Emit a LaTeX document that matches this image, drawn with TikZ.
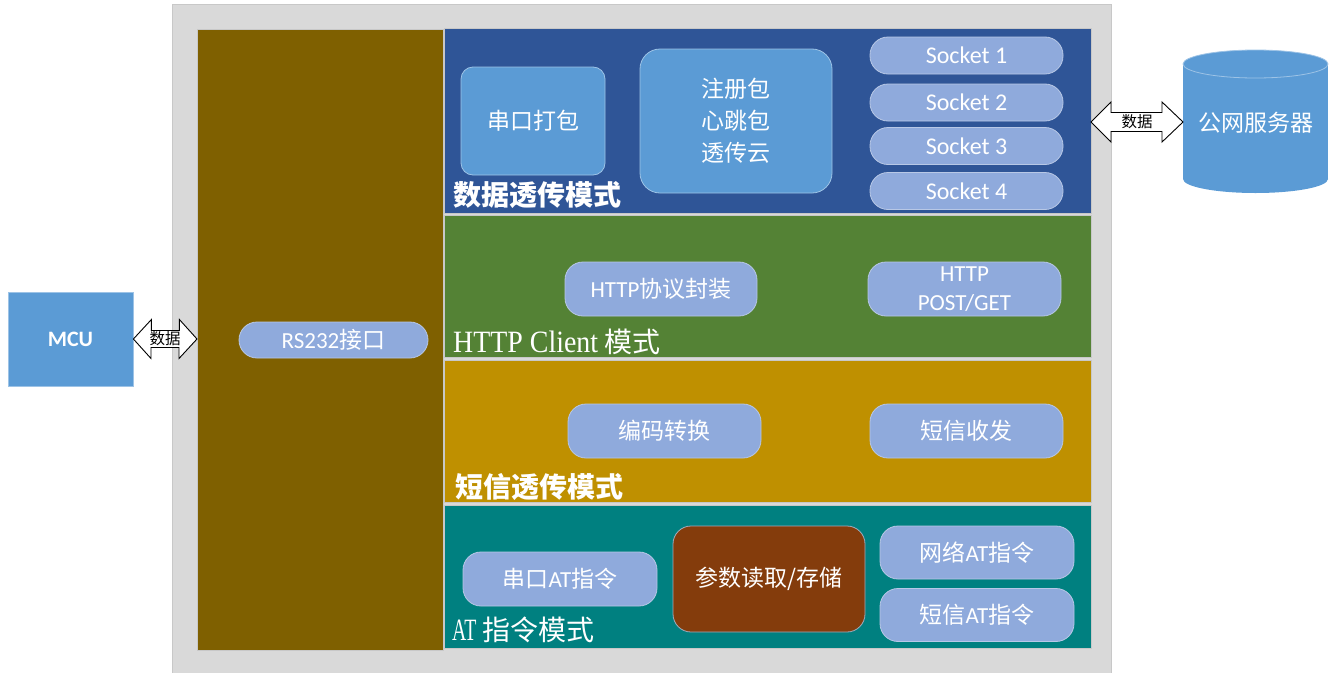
\documentclass[tikz,border=0pt]{standalone}
\usepackage{fontspec}
\setmainfont{Noto Sans CJK SC}
\newfontfamily\lat{Carlito}
\newfontfamily\serA[FakeStretch=0.9]{Liberation Serif}
\newfontfamily\serB[FakeStretch=0.64]{Liberation Serif}
\usetikzlibrary{calc}
\definecolor{frameg}{HTML}{D9D9D9}
\definecolor{colbrown}{HTML}{7F6000}
\definecolor{pblue}{HTML}{2F5597}
\definecolor{pgreen}{HTML}{548235}
\definecolor{pgold}{HTML}{BF9000}
\definecolor{pteal}{HTML}{008080}
\definecolor{panelline}{HTML}{C8C8C8}
\definecolor{pillc}{HTML}{8FAADC}
\definecolor{pilledge}{HTML}{B8C8E6}
\definecolor{lblue}{HTML}{5B9BD5}
\definecolor{lbedge}{HTML}{9DC3E6}
\definecolor{paramc}{HTML}{843C0C}
\tikzset{
 panel/.style={draw=panelline, line width=1pt, inner sep=0pt, outer sep=0pt},
 pill/.style={fill=pillc, draw=pilledge, line width=0.8pt, rounded corners=18pt, text=white,
   inner sep=0pt, outer sep=0pt, font=\fontsize{23}{29}\selectfont, align=center},
 bbox/.style={fill=lblue, draw=lbedge, line width=0.8pt, text=white, inner sep=0pt,
   outer sep=0pt, align=center, font=\fontsize{23}{32}\selectfont},
 modelbl/.style={text=white, anchor=base west, inner sep=0pt, font=\fontsize{28}{30}\selectfont\bfseries},
 modelbr/.style={text=white, anchor=base west, inner sep=0pt, font=\fontsize{28}{30}\selectfont},
 dblarr/.style={draw=black, fill=white, line width=0.9pt, line join=miter},
 arrlbl/.style={font=\fontsize{15.5}{16}\selectfont, text=black, inner sep=0pt},
}
\begin{document}
\begin{tikzpicture}[x=1pt,y=-1pt]
\useasboundingbox (0,0) rectangle (1335,672);
% frame
\node[fill=frameg, draw=panelline, line width=0.6pt, anchor=north west, minimum width=939pt, minimum height=670pt, inner sep=0pt] (frame) at (172,4) {};
% column
\node[panel, fill=colbrown, minimum width=246pt, minimum height=621pt] (col) at (320,339.5) {};
% panels
\node[panel, fill=pblue, minimum width=647pt, minimum height=185pt] (blue) at (767.5,120.5) {};
\node[panel, fill=pgreen, minimum width=647pt, minimum height=142pt] (green) at (767.5,286) {};
\node[panel, fill=pgold, minimum width=647pt, minimum height=142pt] (gold) at (767.5,431) {};
\node[panel, fill=pteal, minimum width=647pt, minimum height=143pt] (teal) at (767.5,576.5) {};
% RS232
\node[pill, minimum width=189pt, minimum height=36pt] (rs) at (333.5,340) {{\lat RS232}接口};
% blue panel content
\node[bbox, rounded corners=12pt, minimum width=144pt, minimum height=108pt] (ckdb) at (533,121) {串口打包};
\node[bbox, rounded corners=20pt, minimum width=192pt, minimum height=144pt] (zcb) at (736,121) {注册包\\心跳包\\透传云};
\node[pill, minimum width=193pt, minimum height=37pt] (s1) at (966.5,55.5) {\lat\fontsize{24}{26}\selectfont Socket 1};
\node[pill, minimum width=193pt, minimum height=37pt] (s2) at (966.5,102.5) {\lat\fontsize{24}{26}\selectfont Socket 2};
\node[pill, minimum width=193pt, minimum height=37pt] (s3) at (966.5,146) {\lat\fontsize{24}{26}\selectfont Socket 3};
\node[pill, minimum width=193pt, minimum height=37pt] (s4) at (966.5,191) {\lat\fontsize{24}{26}\selectfont Socket 4};
\node[modelbl] (l1) at (453,205) {数据透传模式};
% green panel
\node[pill, minimum width=192pt, minimum height=54pt] (hp) at (661,289) {{\lat HTTP}协议封装};
\node[pill, minimum width=193pt, minimum height=54pt] (hg) at (964.5,289) {\lat HTTP\\\lat POST/GET};
\node[modelbr] (l2) at (453,352) {{\serA\fontsize{31}{30}\selectfont HTTP Client} 模式};
% gold panel
\node[pill, minimum width=193pt, minimum height=54pt] (bm) at (664.5,431) {编码转换};
\node[pill, minimum width=193pt, minimum height=54pt] (dx) at (966.5,431) {短信收发};
\node[modelbl] (l3) at (455,497) {短信透传模式};
% teal panel
\node[pill, minimum width=194pt, minimum height=54pt] (atc) at (560,579) {串口{\lat AT}指令};
\node[fill=paramc, draw=pilledge!60!gray, line width=0.8pt, rounded corners=18pt, text=white, inner sep=0pt,
  font=\fontsize{23}{29}\selectfont, minimum width=192pt, minimum height=106pt] (param) at (769,579) {参数读取/存储};
\node[pill, minimum width=194pt, minimum height=53pt] (net) at (977,552.5) {网络{\lat AT}指令};
\node[pill, minimum width=194pt, minimum height=53pt] (smsat) at (977,615) {短信{\lat AT}指令};
\node[modelbr] (l4) at (452,640) {{\serB\fontsize{31}{30}\selectfont AT} 指令模式};
% MCU
\node[fill=lblue, draw=lbedge, line width=0.8pt, text=white, inner sep=0pt, minimum width=125pt,
  minimum height=94pt, font=\lat\bfseries\fontsize{22}{24}\selectfont] (mcu) at (70.5,339) {MCU};
% left double arrow
\draw[dblarr] (mcu.east) -- ++(18,-19.5) -- ++(0,11) -- ++(28,0) -- ++(0,-11) -- (col.west |- mcu.east)
  -- ++(-18,19.5) -- ++(0,-11) -- ++(-28,0) -- ++(0,11) -- cycle;
\node[arrlbl] (d1) at ($(mcu.east)!0.5!(col.west |- mcu.east)$) {数据};
% server cylinder
\fill[lblue] (1183,64) rectangle (1328,179);
\fill[lblue] (1255.5,179) ellipse [x radius=72.5, y radius=14];
\fill[lblue] (1255.5,64) ellipse [x radius=72.5, y radius=14];
\draw[lbedge, line width=0.8pt] (1255.5,64) ellipse [x radius=72.5, y radius=14];
\coordinate (srvL) at (1183,122);
\node[text=white, inner sep=0pt, font=\fontsize{23}{26}\selectfont] (srv) at (1256,123) {公网服务器};
% right double arrow
\draw[dblarr] (blue.east |- srvL) -- ++(20,-20) -- ++(0,10.5) -- ++(51,0) -- ++(0,-10.5) -- (srvL)
  -- ++(-21,20) -- ++(0,-10.5) -- ++(-51,0) -- ++(0,10.5) -- cycle;
\node[arrlbl] (d2) at ($(blue.east |- srvL)!0.5!(srvL)$) {数据};
\end{tikzpicture}
\end{document}
